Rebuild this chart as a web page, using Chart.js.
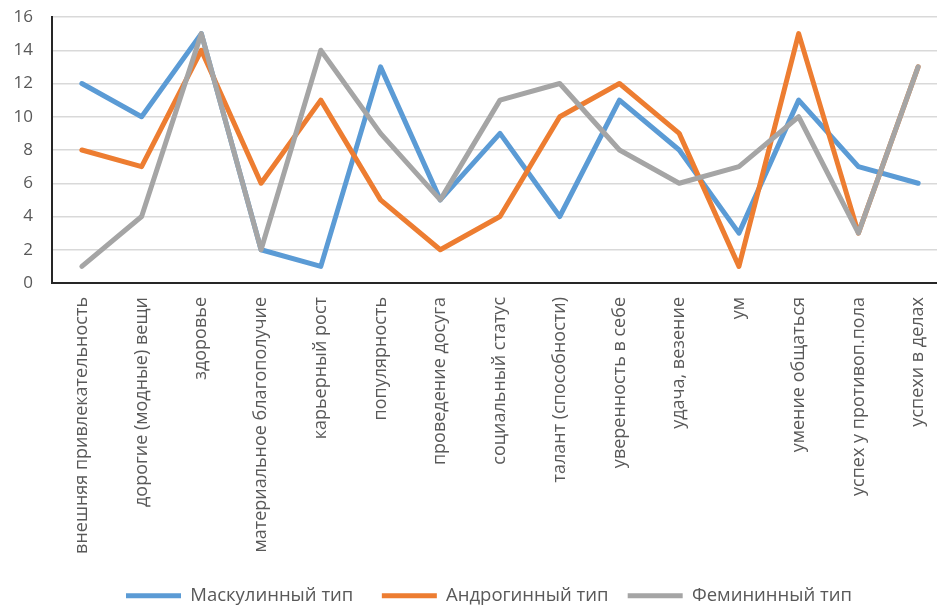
<!DOCTYPE html>
<html lang="ru">
<head>
    <meta charset="UTF-8">
    <title>Ценности</title>
    <script src="https://cdn.jsdelivr.net/npm/chart.js"></script>
    <style>
        html, body {
            margin: 0;
            padding: 0;
            background: #fff;
            overflow: hidden;
        }
        #wrap {
            width: 978px;
            height: 605px;
        }
    </style>
</head>
<body>
    <div id="wrap"><canvas id="chart"></canvas></div>
    <script>
        const categories = [
            'внешняя привлекательность',
            'дорогие (модные) вещи',
            'здоровье',
            'материальное благополучие',
            'карьерный рост',
            'популярность',
            'проведение досуга',
            'социальный статус',
            'талант (способности)',
            'уверенность в себе',
            'удача, везение',
            'ум',
            'умение общаться',
            'успех у противоп.пола',
            'успехи в делах'
        ];
        const masculine = [12, 10, 15, 2, 1, 13, 5, 9, 4, 11, 8, 3, 11, 7, 6];
        const androgynous = [8, 7, 14, 6, 11, 5, 2, 4, 10, 12, 9, 1, 15, 3, 13];
        const feminine = [1, 4, 15, 2, 14, 9, 5, 11, 12, 8, 6, 7, 10, 3, 13];

        const font = "'Open Sans', 'DejaVu Sans', sans-serif";
        // extra gap after each legend entry (en spaces)
        const legendGaps = ['\u2002\u2002', '\u2002', ''];

        // order: lower value is drawn on top, so the grey line goes over the others like in Excel
        function series(label, data, color, order) {
            return {
                label: label,
                data: data,
                order: order,
                borderColor: color,
                backgroundColor: color,
                borderWidth: 5,
                borderCapStyle: 'round',
                borderJoinStyle: 'round',
                pointRadius: 0,
                pointStyle: 'line',
                tension: 0,
                fill: false
            };
        }

        // the plot runs past the right edge of the page, so nudge the legend to sit under the visible part
        const legendShift = {
            id: 'legendShift',
            afterLayout(chart) {
                const lg = chart.legend;
                lg.left += 15;
                lg.right += 15;
                lg.top += 10;
                lg.bottom += 10;
            }
        };

        new Chart(document.getElementById('chart'), {
            type: 'line',
            data: {
                labels: categories,
                datasets: [
                    series('Маскулинный тип', masculine, '#5B9BD5', 2),
                    series('Андрогинный тип', androgynous, '#ED7D31', 1),
                    series('Фемининный тип', feminine, '#A5A5A5', 0)
                ]
            },
            plugins: [legendShift],
            options: {
                responsive: true,
                maintainAspectRatio: false,
                animation: false,
                layout: {
                    padding: { left: 0, right: 30, top: 0, bottom: 0 }
                },
                plugins: {
                    tooltip: { enabled: false },
                    legend: {
                        position: 'bottom',
                        labels: {
                            usePointStyle: true,
                            pointStyleWidth: 55,
                            boxHeight: 5,
                            color: '#595959',
                            padding: 10,
                            font: { family: font, size: 18.5 },
                            generateLabels(chart) {
                                const items = Chart.defaults.plugins.legend.labels.generateLabels(chart);
                                items.sort((a, b) => a.datasetIndex - b.datasetIndex);
                                items.forEach((item, i) => { item.text += legendGaps[i]; });
                                return items;
                            }
                        }
                    }
                },
                scales: {
                    x: {
                        offset: true,
                        grid: { display: false, drawTicks: false },
                        border: { display: true, color: '#262626', width: 2 },
                        afterFit(scale) {
                            scale.height = 283.5;
                        },
                        ticks: {
                            autoSkip: false,
                            maxRotation: 90,
                            minRotation: 90,
                            padding: 14,
                            color: '#595959',
                            font: { family: font, size: 18 }
                        }
                    },
                    y: {
                        min: 0,
                        max: 16,
                        grid: { color: '#D9D9D9', lineWidth: 1.5, drawTicks: false },
                        border: { display: true, color: '#262626', width: 2 },
                        afterFit(scale) {
                            scale.width = 52;
                            scale.paddingTop = 17;
                        },
                        ticks: {
                            stepSize: 2,
                            padding: 19,
                            color: '#595959',
                            font: { family: font, size: 17 }
                        }
                    }
                }
            }
        });
    </script>
</body>
</html>
